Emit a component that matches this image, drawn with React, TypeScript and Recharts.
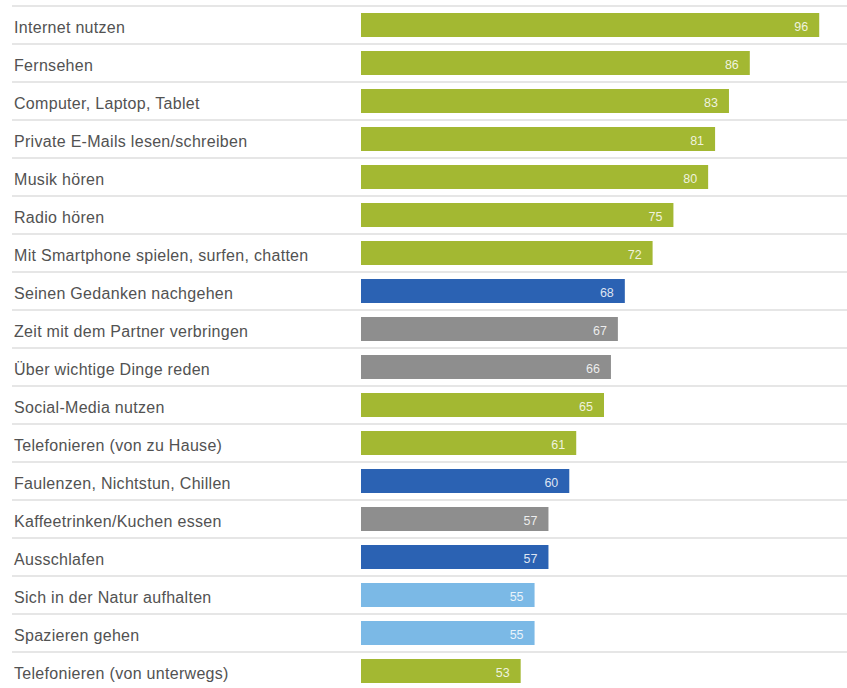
import { Bar, BarChart, Cell, LabelList, XAxis, YAxis } from 'recharts'

const activities = [
  'Internet nutzen',
  'Fernsehen',
  'Computer, Laptop, Tablet',
  'Private E-Mails lesen/schreiben',
  'Musik hören',
  'Radio hören',
  'Mit Smartphone spielen, surfen, chatten',
  'Seinen Gedanken nachgehen',
  'Zeit mit dem Partner verbringen',
  'Über wichtige Dinge reden',
  'Social-Media nutzen',
  'Telefonieren (von zu Hause)',
  'Faulenzen, Nichtstun, Chillen',
  'Kaffeetrinken/Kuchen essen',
  'Ausschlafen',
  'Sich in der Natur aufhalten',
  'Spazieren gehen',
  'Telefonieren (von unterwegs)',
]

const shares = [96, 86, 83, 81, 80, 75, 72, 68, 67, 66, 65, 61, 60, 57, 57, 55, 55, 53]

const groups = [
  'medien', 'medien', 'medien', 'medien', 'medien', 'medien', 'medien',
  'ruhe', 'sozial', 'sozial', 'medien', 'medien', 'ruhe', 'sozial', 'ruhe',
  'natur', 'natur', 'medien',
]

const groupColors: Record<string, string> = {
  medien: '#a3b832',
  ruhe: '#2b62b3',
  sozial: '#8e8e8e',
  natur: '#7bb9e6',
}

const data = activities.map((name, i) => ({ name, value: shares[i], group: groups[i] }))

const ROW = 38

function CategoryTick(props: any) {
  const { y, payload, index } = props
  return (
    <g>
      {index === 0 && <line x1={12} x2={847} y1={y - ROW / 2} y2={y - ROW / 2} stroke="#dedede" strokeWidth={1.5} />}
      <line x1={12} x2={847} y1={y + ROW / 2} y2={y + ROW / 2} stroke="#dedede" strokeWidth={1.5} />
      <text x={14} y={y} dy={8} fontSize={16} letterSpacing={0.3} fill="#525252" textAnchor="start">
        {payload.value}
      </text>
    </g>
  )
}

function ValueLabel(props: any) {
  const { x, y, width, height, value } = props
  return (
    <text x={x + width - 11} y={y + height / 2} dy={6} fontSize={12.5} fill="rgba(255,255,255,0.85)" textAnchor="end">
      {value}
    </text>
  )
}

export default function App() {
  return (
    <div style={{ position: 'absolute', left: 0, top: 0, width: 847, height: 688, overflow: 'hidden', background: '#fff', fontFamily: '"Liberation Sans", Arial, sans-serif' }}>
      <BarChart
        width={847}
        height={690}
        data={data}
        layout="vertical"
        margin={{ top: 6, right: 0, left: 0, bottom: 0 }}
      >
        <XAxis type="number" domain={[30, 100]} hide allowDataOverflow />
        <YAxis
          type="category"
          dataKey="name"
          width={361}
          axisLine={false}
          tickLine={false}
          interval={0}
          tick={<CategoryTick />}
        />
        <Bar dataKey="value" barSize={24} isAnimationActive={false}>
          {data.map((d) => (
            <Cell key={d.name} fill={groupColors[d.group]} />
          ))}
          <LabelList dataKey="value" content={<ValueLabel />} />
        </Bar>
      </BarChart>
    </div>
  )
}
